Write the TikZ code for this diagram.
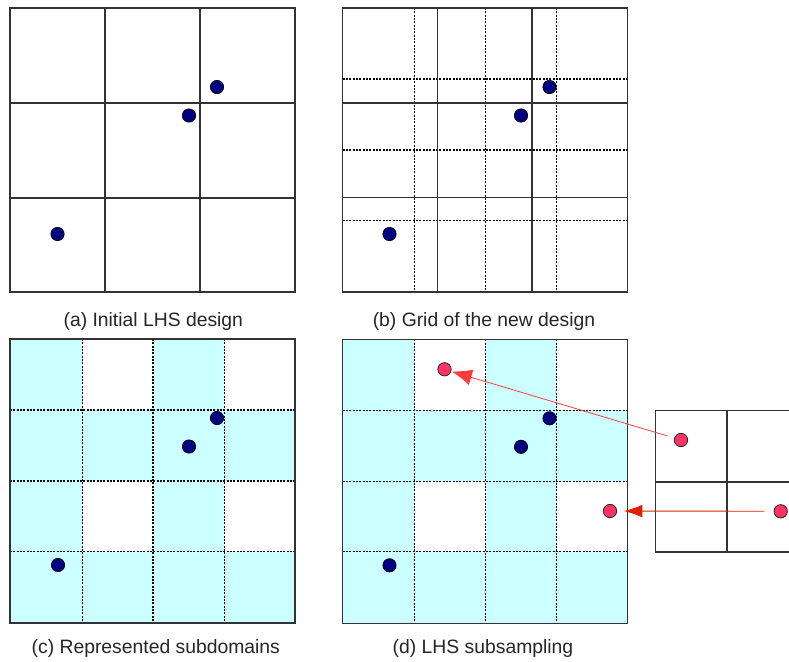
\documentclass[tikz,border=0pt]{standalone}
\usepackage{fontspec}
\setmainfont{Liberation Sans}
\usetikzlibrary{arrows.meta}

\definecolor{navydot}{RGB}{0,0,128}
\definecolor{pinkdot}{RGB}{255,51,102}
\definecolor{subcyan}{RGB}{204,255,255}
\definecolor{arrowlight}{RGB}{255,60,60}
\definecolor{arrowdark}{RGB}{222,34,0}

\tikzset{
  frame/.style={draw=black!80,line width=0.8pt},
  fine/.style={draw=black,line width=0.85pt,dash pattern=on 1.5pt off 1pt},
  bdot/.style={circle,draw=black,fill=navydot,line width=0.5pt,inner sep=0pt,minimum size=10pt},
  rdot/.style={circle,draw=black!85,fill=pinkdot,line width=0.6pt,inner sep=0pt,minimum size=10pt},
  caption/.style={font=\fontsize{14.5}{17}\selectfont,anchor=base,text=black!85}
}

\begin{document}
\begin{tikzpicture}[x=0.75pt,y=-0.75pt]
    \clip (0,0) rectangle (789,661);
    \fill[white] (0,0) rectangle (789,661);
    % (a) the initial design
    \begin{scope}[shift={(10,8)}]
        \draw[frame] (0,0) rectangle (285,284);
        \foreach \c in {95,190}
            {\draw[frame] (\c,0) -- (\c,284);
             \draw[frame] (0,\c) -- (285,\c);}
        \foreach \p/\q [count=\i] in {207/79,179/107.5,47.5/226}
            \node[bdot] (a\i) at (\p,\q) {};
    \end{scope}
    % (b) coarse grid with the finer one
    \begin{scope}[shift={(342.5,8)}]
        \foreach \c/\r in {72.3/71,143/142,214.3/212.5}
            {\draw[fine] (\c,0) -- (\c,284);
             \draw[fine] (0,\r) -- (285,\r);}
        \draw[frame] (0,0) rectangle (285,284);
        \foreach \c in {95,189.5}
            {\draw[frame] (\c,0) -- (\c,284);
             \draw[frame] (0,\c) -- (285,\c);}
        \foreach \p/\q [count=\i] in {207/79,178.5/107.5,47/226}
            \node[bdot] (b\i) at (\p,\q) {};
    \end{scope}
    % (c) subdomains that hold a point
    \begin{scope}[shift={(10,339)}]
        \fill[subcyan] (0,0) rectangle (285,284);
        \foreach \c/\r in {72.3/0,214.3/0,72.3/142,214.3/142}
            \fill[white] (\c,\r) rectangle ++(71,71);
        \foreach \c/\r in {72.3/71,143/142,214.3/212.5}
            {\draw[fine] (\c,0) -- (\c,284);
             \draw[fine] (0,\r) -- (285,\r);}
        \draw[frame] (0,0) rectangle (285,284);
        \foreach \p/\q [count=\i] in {207/79,179/107.5,48/226}
            \node[bdot] (c\i) at (\p,\q) {};
    \end{scope}
    % (d) new points in the empty subdomains
    \begin{scope}[shift={(342.5,339.3)}]
        \fill[subcyan] (0,0) rectangle (285,284);
        \foreach \c/\r in {72.3/0,214.3/0,72.3/142,214.3/142}
            \fill[white] (\c,\r) rectangle ++(71,71);
        \foreach \c/\r in {72.3/71,143/142,214.3/212.5}
            {\draw[fine] (\c,0) -- (\c,284);
             \draw[fine] (0,\r) -- (285,\r);}
        \draw[frame] (0,0) rectangle (285,284);
        \foreach \p/\q [count=\i] in {207/79,178.5/107.5,47/226}
            \node[bdot] (d\i) at (\p,\q) {};
        \node[rdot] (r1) at (102,30) {};
        \node[rdot] (r2) at (267.5,171.7) {};
    \end{scope}
    % small LHS on the right
    \draw[frame] (655.7,410.3) rectangle (800,552);
    \draw[frame] (727,410.3) -- (727,552);
    \draw[frame] (655.7,482) -- (800,482);
    \node[rdot] (s1) at (681,440) {};
    \node[rdot] (s2) at (780.7,511.3) {};
    \draw[arrowlight,line width=0.6pt,-{Latex[length=15pt,width=12pt]},shorten <=5.5pt,shorten >=0.5pt] (s1) -- (r1);
    \draw[arrowdark,line width=0.7pt,-{Latex[length=14pt,width=9.5pt]},shorten <=7pt,shorten >=5pt] (s2) -- (r2);
    % captions
    \node[caption] (capa) at (153.3,326) {(a) Initial LHS design};
    \node[caption] (capb) at (484,326) {(b) Grid of the new design};
    \node[caption] (capc) at (155.8,653) {(c) Represented subdomains};
    \node[caption] (capd) at (483,653) {(d) LHS subsampling};
\end{tikzpicture}
\end{document}
